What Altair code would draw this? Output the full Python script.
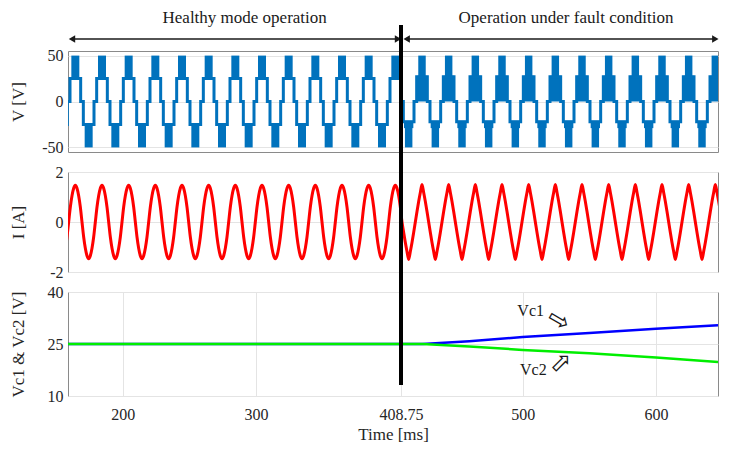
import altair as alt
import pandas as pd

# ---------------- values ----------------
x_domain = [159, 646.5]
x_ticks = [200, 300, 408.75, 500, 600]
fault_ms = 408.75
period_ms = 20
first_pos_half_ms = 159.5
cycle_index = list(range(-1, 25))

v_domain = [-55, 55]
v_ticks = [-50, 0, 50]
i_domain = [-2, 2]
i_ticks = [-2, 0, 2]
vc_domain = [10, 40]
vc_ticks = [10, 25, 40]

# voltage staircase outline over one half-cycle (phase in ms, level in V)
v_stair_phase = [0.0, 1.0, 1.0, 9.0, 9.0, 10.0]
v_stair_healthy_pos = [0, 0, 25, 25, 0, 0]
v_stair_healthy_neg = [0, 0, -25, -25, 0, 0]
v_stair_fault_pos = [0, 0, 27, 27, 0, 0]
v_stair_fault_neg = [0, 0, -22, -22, 0, 0]

# PWM switching bands within a half-cycle: (phase start, phase end, low V, high V)
v_band_healthy_pos = [(2.0, 8.0, 25, 50)]
v_band_healthy_neg = [(2.0, 8.0, -50, -25)]
v_band_fault_pos = [(0.9, 9.1, 0, 28), (2.2, 7.8, 25, 50)]
v_band_fault_neg = [(1.5, 8.5, -29, -21), (2.2, 7.8, -50, -27)]

# current over one cycle (phase in ms, A)
i_phase = [0, 1.25, 2.5, 3.75, 5, 6.25, 7.5, 8.75, 10, 11.25, 12.5, 13.75, 15, 16.25, 17.5, 18.75]
i_healthy = [0.0, 0.6, 1.05, 1.35, 1.47, 1.35, 1.05, 0.6, 0.0, -0.6, -1.05, -1.35, -1.47, -1.35, -1.05, -0.6]
i_fault = [0.0, 0.42, 0.82, 1.18, 1.5, 1.18, 0.82, 0.42, 0.0, -0.42, -0.82, -1.18, -1.5, -1.18, -0.82, -0.42]

# capacitor voltages
vc_t = [159, 425, 460, 500, 550, 600, 646.5]
vc1 = [25.0, 25.0, 25.8, 27.0, 28.2, 29.4, 30.4]
vc2 = [25.0, 25.0, 24.3, 23.3, 22.3, 21.1, 19.8]

header_labels = ["Healthy mode operation", "Operation under fault condition"]
header_label_t = [291.5, 532.5]
header_arrow_t0 = [162.0, 413.0]
header_arrow_t1 = [406.5, 644.5]

vc_labels = ["Vc1", "Vc2"]
vc_label_t = [506.0, 508.0]
vc_label_v = [34.6, 17.4]
vc_arrow_t = [527.0, 529.0]
vc_arrow_v = [31.8, 19.6]
vc_arrow_angle = [30, 315]

# ---------------- build tables ----------------
FONT = "Liberation Serif"
W = 650
V_BLUE = "#0072BD"

v_rows, band_rows, i_rows = [], [], []
order = 0
for k in cycle_index:
    c0 = first_pos_half_ms + period_ms * k
    for half in (0, 1):
        s = c0 + half * period_ms / 2
        fault = s >= fault_ms
        if half == 0:
            levels = v_stair_fault_pos if fault else v_stair_healthy_pos
            bands = v_band_fault_pos if fault else v_band_healthy_pos
        else:
            levels = v_stair_fault_neg if fault else v_stair_healthy_neg
            bands = v_band_fault_neg if fault else v_band_healthy_neg
        for p, lv in zip(v_stair_phase, levels):
            v_rows.append({"t": s + p, "v": lv, "o": order})
            order += 1
        for (p0, p1, lo, hi) in bands:
            band_rows.append({"t0": s + p0, "t1": s + p1, "lo": lo, "hi": hi})
    for p, a, b in zip(i_phase, i_healthy, i_fault):
        t = c0 + p
        i_rows.append({"t": t, "i": b if t >= fault_ms + 1 else a})

v_df = pd.DataFrame(v_rows)
band_df = pd.DataFrame(band_rows)
i_df = pd.DataFrame(i_rows)
vc_df = pd.DataFrame(
    [{"t": t, "v": a, "s": "Vc1"} for t, a in zip(vc_t, vc1)]
    + [{"t": t, "v": b, "s": "Vc2"} for t, b in zip(vc_t, vc2)]
)
fault_df = pd.DataFrame({"t": [fault_ms]})
head_df = pd.DataFrame({"t": header_label_t, "label": header_labels})
arrow_df = pd.DataFrame({"t0": header_arrow_t0, "t1": header_arrow_t1})
vclab_df = pd.DataFrame({"t": vc_label_t, "v": vc_label_v, "label": vc_labels})
vcarr_df = pd.DataFrame({"t": vc_arrow_t, "v": vc_arrow_v, "a": vc_arrow_angle})

xs = alt.Scale(domain=x_domain, nice=False, zero=False)

LABEL_STYLE = dict(labelFont=FONT, labelFontSize=16, labelColor="#262626",
                   titleFont=FONT, titleFontSize=17, titleFontWeight="normal", titleColor="#262626",
                   gridColor="#e4e4e4", gridWidth=1)

X_AXIS = alt.Axis(values=x_ticks, labelExpr="'' + datum.value", title="Time [ms]",
                  grid=True, domain=False, ticks=False, labelPadding=10, titlePadding=4,
                  **LABEL_STYLE)


def yaxis(vals, title, h):
    return alt.Axis(values=vals, title=title, grid=True, domain=False, ticks=False,
                    labelPadding=5, labelExpr="'' + datum.value",
                    titleX=-50, titleY=h / 2, titleAngle=270, titleAlign="center",
                    titleBaseline="middle", **LABEL_STYLE)


def fault_line(y0, y1, axis=None):
    xenc = alt.X("t:Q", scale=xs, axis=axis) if axis is not None else alt.X("t:Q", scale=xs, axis=None)
    return alt.Chart(fault_df).mark_rule(color="black", strokeWidth=4).encode(
        x=xenc, y=alt.value(y0), y2=alt.value(y1))


# ---------------- header ----------------
H0 = 23
head_text = alt.Chart(head_df).mark_text(font=FONT, fontSize=17, color="#1a1a1a", baseline="middle").encode(
    x=alt.X("t:Q", scale=xs, axis=None), y=alt.value(10), text="label:N")
head_rule = alt.Chart(arrow_df).mark_rule(color="#1a1a1a", strokeWidth=1.5).encode(
    x=alt.X("t0:Q", scale=xs, axis=None), x2="t1:Q", y=alt.value(31))
head_left = alt.Chart(arrow_df).mark_point(shape="triangle-left", filled=True, color="#1a1a1a",
                                           size=55, opacity=1).encode(
    x=alt.X("t0:Q", scale=xs, axis=None), y=alt.value(31))
head_right = alt.Chart(arrow_df).mark_point(shape="triangle-right", filled=True, color="#1a1a1a",
                                            size=55, opacity=1).encode(
    x=alt.X("t1:Q", scale=xs, axis=None), y=alt.value(31))
header = alt.layer(head_text, head_rule, head_left, head_right, fault_line(17, H0 + 20)).properties(
    width=W, height=H0, view=alt.ViewBackground(strokeOpacity=0))

# ---------------- voltage ----------------
H1 = 101
v_line = alt.Chart(v_df).mark_line(color=V_BLUE, strokeWidth=3, clip=True).encode(
    x=alt.X("t:Q", scale=xs, axis=None),
    y=alt.Y("v:Q", scale=alt.Scale(domain=v_domain, nice=False), axis=yaxis(v_ticks, "V [V]", H1)),
    order="o:Q")
v_band = alt.Chart(band_df).mark_rect(color=V_BLUE, clip=True).encode(
    x=alt.X("t0:Q", scale=xs, axis=None), x2="t1:Q",
    y=alt.Y("lo:Q", scale=alt.Scale(domain=v_domain, nice=False), axis=yaxis(v_ticks, "V [V]", H1)),
    y2="hi:Q")
top = alt.layer(v_band, v_line, fault_line(0, H1 + 20)).properties(width=W, height=H1)

# ---------------- current ----------------
H2 = 100
i_line = alt.Chart(i_df).mark_line(color="#FF0000", strokeWidth=3, clip=True, interpolate="monotone").encode(
    x=alt.X("t:Q", scale=xs, axis=None),
    y=alt.Y("i:Q", scale=alt.Scale(domain=i_domain, nice=False), axis=yaxis(i_ticks, "I [A]", H2)))
mid = alt.layer(i_line, fault_line(0, H2 + 20)).properties(width=W, height=H2)

# ---------------- capacitor voltages ----------------
H3 = 104
vc_y = alt.Scale(domain=vc_domain, nice=False)
vc_line = alt.Chart(vc_df).mark_line(strokeWidth=2.5, clip=True).encode(
    x=alt.X("t:Q", scale=xs, axis=X_AXIS),
    y=alt.Y("v:Q", scale=vc_y, axis=yaxis(vc_ticks, "Vc1 & Vc2 [V]", H3)),
    color=alt.Color("s:N", scale=alt.Scale(domain=["Vc1", "Vc2"], range=["#0000FF", "#00EE00"]), legend=None),
    order=alt.Order("s:N"))
vc_text = alt.Chart(vclab_df).mark_text(font=FONT, fontSize=16, color="#1a1a1a").encode(
    x=alt.X("t:Q", scale=xs, axis=X_AXIS),
    y=alt.Y("v:Q", scale=vc_y, axis=yaxis(vc_ticks, "Vc1 & Vc2 [V]", H3)), text="label:N")
arr1 = alt.Chart(vcarr_df.iloc[[0]]).mark_text(font="DejaVu Sans", fontSize=26, color="#1a1a1a",
                                               angle=vc_arrow_angle[0], text="\u21E8").encode(
    x=alt.X("t:Q", scale=xs, axis=X_AXIS),
    y=alt.Y("v:Q", scale=vc_y, axis=yaxis(vc_ticks, "Vc1 & Vc2 [V]", H3)))
arr2 = alt.Chart(vcarr_df.iloc[[1]]).mark_text(font="DejaVu Sans", fontSize=26, color="#1a1a1a",
                                               angle=vc_arrow_angle[1], text="\u21E8").encode(
    x=alt.X("t:Q", scale=xs, axis=X_AXIS),
    y=alt.Y("v:Q", scale=vc_y, axis=yaxis(vc_ticks, "Vc1 & Vc2 [V]", H3)))
bot = alt.layer(vc_line, vc_text, arr1, arr2, fault_line(0, H3 - 11, X_AXIS)).properties(width=W, height=H3)

chart = alt.vconcat(header, top, mid, bot, spacing=20, bounds="flush").configure_view(
    stroke="#8a8a8a", strokeWidth=1
).properties(background="white", padding=0)

chart.save("out.html", embed_options={"renderer": "svg", "actions": False})
